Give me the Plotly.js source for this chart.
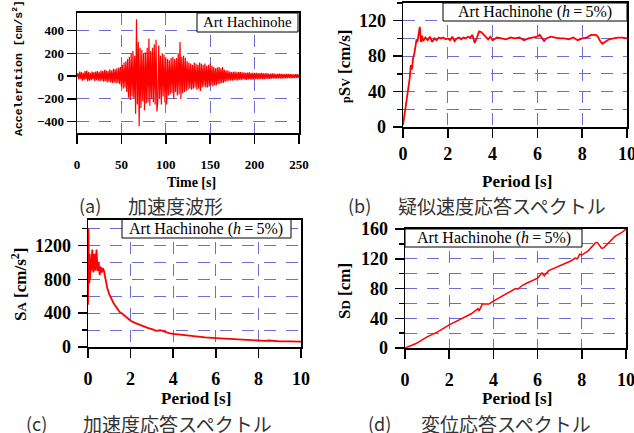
<!DOCTYPE html>
<html><head><meta charset="utf-8">
<script src="https://cdn.plot.ly/plotly-3.0.1.min.js"></script>
<style>html,body{margin:0;padding:0;background:#fff;}</style>
</head><body><div id="chart" style="width:634px;height:433px;"></div>
<script>
// (a) Acceleration time history, 1 s sampling from t = 0 s [cm/s^2]
const accelT0 = 0;
const accelDt = 1;
const accelValues = [
 0,25,-30,40,-25,35,-40,30,-35,45,-30,50,-45,35,-40,30,-35,40,-30,35,
 -45,40,-35,45,-40,35,-45,50,-40,45,-50,55,-45,50,-55,45,-50,60,-55,50,
 -60,65,-55,60,-65,70,-60,75,-70,80,-90,100,-110,120,-100,130,-140,150,-190,170,
 -210,200,-180,220,-200,180,-330,500,-250,300,-440,250,-280,230,-220,200,-300,210,-240,250,
 -230,330,-260,220,-200,250,-230,280,-250,320,-310,-220,270,-200,180,-250,200,-180,190,-230,
 160,-250,150,-170,140,-160,160,-150,170,-200,150,-140,160,-170,200,-160,300,-200,170,-150,
 180,-140,160,-130,130,-120,120,-110,110,-120,100,-110,120,-100,110,-120,100,-110,120,-130,
 110,-100,100,-90,110,-100,90,-100,100,-90,110,-80,90,-90,80,-80,70,-80,75,-70,
 80,-70,70,-60,80,-60,55,-50,50,-45,50,-40,40,-38,35,-40,38,-35,40,-36,
 34,-38,36,-32,35,-36,33,-30,34,-32,30,-34,32,-30,33,-28,30,-31,29,-30,
 28,-27,30,-28,26,-29,27,-25,28,-26,24,-27,25,-23,26,-24,22,-25,23,-22,
 24,-21,22,-23,20,-22,21,-20,22,-19,20,-21,19,-20,18,-19,20,-18,19,-17,
 18,-19,17,-18,16,-17,18,-16,17,-15,16
];

// Spectra (h = 5%)
const pSvPeriod = [0,0.05,0.1,0.15,0.2,0.25,0.3,0.35,0.4,0.45,0.5,0.55,0.6,0.65,0.7,0.75,0.8,0.85,0.9,1.0,
 1.1,1.2,1.3,1.4,1.5,1.6,1.7,1.8,1.9,2.0,2.1,2.2,2.3,2.4,2.5,2.6,2.7,2.8,2.9,3.0,
 3.1,3.2,3.3,3.4,3.5,3.6,3.7,3.8,3.9,4.0,4.2,4.4,4.6,4.8,5.0,5.2,5.4,5.6,5.8,6.0,
 6.1,6.2,6.3,6.4,6.6,6.8,7.0,7.2,7.4,7.6,7.8,8.0,8.2,8.4,8.6,8.7,8.8,8.9,9.0,9.2,
 9.4,9.6,9.8,10.0];
const pSvValues = [2,10,20,30,35,45,55,70,65,78,82,90,98,97,105,113,96,103,97,101,
 98,102,96,100,98,101,100,101,99,100,98,102,97,100,101,99,101,100,102,101,
 104,95,101,108,107,104,101,99,102,98,101,100,99,101,100,101,98,100,101,102,
 104,101,97,100,102,101,100,100,99,101,98,100,101,104,104,102,97,94,96,99,
 100,101,101,100];

const saPeriod = [0,0.02,0.04,0.06,0.08,0.1,0.12,0.15,0.2,0.25,0.3,0.35,0.4,0.45,0.5,0.55,0.6,0.65,0.7,0.75,
 0.8,0.9,1.0,1.1,1.2,1.3,1.4,1.5,1.6,1.8,2.0,2.2,2.4,2.6,2.8,3.0,3.2,3.4,3.6,3.8,
 4.0,4.5,5.0,5.5,6.0,6.5,7.0,7.5,8.0,8.3,8.5,9.0,9.5,10.0];
const saValues = [500,1400,1000,750,1100,800,1050,900,1150,880,1100,900,1150,900,1000,850,950,880,930,900,
 820,700,620,560,520,480,440,410,395,350,310,285,262,242,225,210,190,198,180,165,
 155,140,126,114,106,98,90,83,78,72,77,67,66,63];

const sdPeriod = [0,0.5,1.0,1.5,2.0,2.5,3.0,3.3,3.35,3.5,3.8,4.0,4.5,5.0,5.1,5.3,5.5,6.0,6.2,6.3,
 6.5,7.0,7.5,7.7,7.8,7.9,8.0,8.3,8.6,8.7,8.9,9.0,9.3,9.5,9.8,10.0];
const sdValues = [0,6,15,22,31,38,46,53,50,59,59,63,71,80,79,84,87,94,101,97,
 104,110,117,121,120,126,125,131,141,142,134,135,144,150,155,160];

const captions = [
  {tag:'(a)', text:'加速度波形'},
  {tag:'(b)', text:'疑似速度応答スペクトル'},
  {tag:'(c)', text:'加速度応答スペクトル'},
  {tag:'(d)', text:'変位応答スペクトル'}
];
const stationLabel = 'Art Hachinohe';
const dampingLabel = 'Art Hachinohe (<i>h</i>\u2009=\u20095%)';

// ---------- layout helpers ----------
const W = 634, H = 433;
const px = x => x / W;
const py = y => 1 - y / H;
const GRID = '#6c6cd6';

function axis(domain, range, dtick, size, extra) {
  return Object.assign({
    domain: domain, range: range, dtick: dtick, tick0: 0,
    showline: true, mirror: true, linecolor: 'black', linewidth: 1.5,
    ticks: 'outside', ticklen: 9, tickwidth: 1.5, tickcolor: 'black',
    showgrid: true, gridcolor: GRID, gridwidth: 1, griddash: '12px,10px',
    zeroline: false, ticklabeloverflow: 'allow',
    tickfont: {family: 'Liberation Serif', size: size, weight: 'bold', color: 'black'}
  }, extra || {});
}
function minor(dt) {
  return {dtick: dt, tick0: 0, ticks: 'outside', ticklen: 5, tickwidth: 1.5, tickcolor: 'black',
          showgrid: true, gridcolor: GRID, gridwidth: 1, griddash: '12px,10px'};
}

const traces = [
  {type: 'scatter', mode: 'lines', x0: accelT0, dx: accelDt, y: accelValues,
   xaxis: 'x', yaxis: 'y', line: {color: '#ff0000', width: 1.2}},
  {type: 'scatter', mode: 'lines', x: pSvPeriod, y: pSvValues,
   xaxis: 'x2', yaxis: 'y2', line: {color: '#ff0000', width: 1.8}},
  {type: 'scatter', mode: 'lines', x: saPeriod, y: saValues,
   xaxis: 'x3', yaxis: 'y3', line: {color: '#ff0000', width: 1.8}},
  {type: 'scatter', mode: 'lines', x: sdPeriod, y: sdValues,
   xaxis: 'x4', yaxis: 'y4', line: {color: '#ff0000', width: 1.5}}
];

const boxes = [
  {x0: 197, x1: 298, y0: 13, y1: 32, text: stationLabel, size: 15},
  {x0: 443, x1: 627, y0: 3, y1: 21, text: dampingLabel, size: 16},
  {x0: 122, x1: 291, y0: 219.5, y1: 238, text: dampingLabel, size: 16},
  {x0: 405, x1: 582, y0: 229, y1: 247, text: dampingLabel, size: 16}
];

const shapes = boxes.map(b => ({type: 'rect', xref: 'paper', yref: 'paper', layer: 'above',
  x0: px(b.x0), x1: px(b.x1), y0: py(b.y1), y1: py(b.y0),
  fillcolor: 'white', line: {color: 'black', width: 1}}));

const ann = [];
boxes.forEach(b => ann.push({xref: 'paper', yref: 'paper', x: px((b.x0 + b.x1) / 2), y: py((b.y0 + b.y1) / 2),
  xanchor: 'center', yanchor: 'middle', showarrow: false, text: b.text,
  font: {family: 'Liberation Serif', size: b.size, color: 'black'}}));

function title(x, y, text, size, angle, family) {
  ann.push({xref: 'paper', yref: 'paper', x: px(x), y: py(y), xanchor: 'center', yanchor: 'middle',
    showarrow: false, text: text, textangle: angle || 0,
    font: {family: family || 'Liberation Serif', size: size, weight: 'bold', color: 'black'}});
}
title(191, 182, 'Time [s]', 14);
title(17, 68, 'Acceleration [cm/s<sup>2</sup>]', 11.5, -90, 'Liberation Mono');
title(517, 181, 'Period [s]', 17);
title(345, 66, '<span style="font-size:12px">p</span>S<span style="font-size:12px">V</span> [cm/s]', 17, -90);
title(196, 398, 'Period [s]', 17);
title(19, 285, 'S<span style="font-size:13px">A</span> [cm/s<sup>2</sup>]', 17, -90);
title(517, 398, 'Period [s]', 17);
title(344, 291, 'S<span style="font-size:13px">D</span> [cm]', 17, -90);

function caption(xTag, xText, y, c) {
  const f = {family: 'Noto Sans CJK JP', size: 18, color: '#333333'};
  ann.push({xref: 'paper', yref: 'paper', x: px(xTag), y: py(y), xanchor: 'left', yanchor: 'middle',
    showarrow: false, text: c.tag, font: f});
  ann.push({xref: 'paper', yref: 'paper', x: px(xText), y: py(y), xanchor: 'left', yanchor: 'middle',
    showarrow: false, text: c.text, font: Object.assign({}, f, {size: 19})});
}
caption(77, 126, 205, captions[0]);
caption(346, 396, 205, captions[1]);
caption(24, 81, 423, captions[2]);
caption(366, 419, 423, captions[3]);

const layout = {
  width: W, height: H, margin: {l: 0, r: 0, t: 0, b: 0},
  paper_bgcolor: 'white', plot_bgcolor: 'white', showlegend: false,
  xaxis: axis([px(77), px(299)], [0, 250], 50, 13, {anchor: 'y', ticklabelstandoff: 9, linewidth: 2}),
  yaxis: axis([py(133), py(13)], [-500, 555], 200, 13, {anchor: 'x'}),
  xaxis2: axis([px(403), px(627)], [0, 10], 2, 18, {anchor: 'y2', linewidth: 2}),
  yaxis2: axis([py(127), py(3)], [0, 140], 40, 18, {anchor: 'x2', minor: minor(20), ticklabelstandoff: 3}),
  xaxis3: axis([px(88), px(301)], [0, 10], 2, 18, {anchor: 'y3', ticklabelstandoff: 5, linewidth: 2}),
  yaxis3: axis([py(347), py(220)], [0, 1500], 400, 18, {anchor: 'x3', minor: minor(200), ticklabelstandoff: 3}),
  xaxis4: axis([px(405), px(626)], [0, 10], 2, 18, {anchor: 'y4', ticklabelstandoff: 5, linewidth: 2}),
  yaxis4: axis([py(348), py(229)], [0, 160], 40, 18, {anchor: 'x4', minor: minor(20), ticklabelstandoff: 3}),
  shapes: shapes,
  annotations: ann
};

Plotly.newPlot('chart', traces, layout, {displayModeBar: false, staticPlot: true});
</script>
</body></html>
